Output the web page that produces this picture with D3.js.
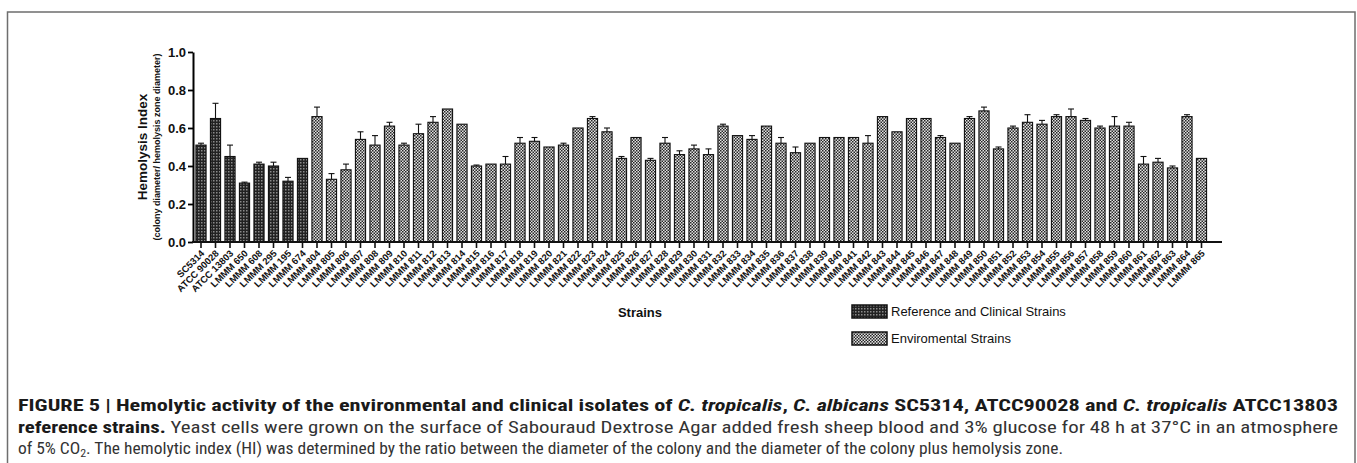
<!DOCTYPE html>
<html>
<head>
<meta charset="utf-8">
<script src="https://cdn.jsdelivr.net/npm/d3@7"></script>
<style>
	body { margin: 0; background: #fff; }
	svg { display: block; }
</style>
</head>
<body>
<div id="chart"></div>
<script>
'use strict';

var refStrains = ['SC5314', 'ATCC 90028', 'ATCC 13803', 'LMMM 650', 'LMMM 608',
	'LMMM 295', 'LMMM 195', 'LMMM 674'];
var envStrains = ['LMMM 804', 'LMMM 805', 'LMMM 806', 'LMMM 807', 'LMMM 808',
	'LMMM 809', 'LMMM 810', 'LMMM 811', 'LMMM 812', 'LMMM 813', 'LMMM 814',
	'LMMM 815', 'LMMM 816', 'LMMM 817', 'LMMM 818', 'LMMM 819', 'LMMM 820',
	'LMMM 821', 'LMMM 822', 'LMMM 823', 'LMMM 824', 'LMMM 825', 'LMMM 826',
	'LMMM 827', 'LMMM 828', 'LMMM 829', 'LMMM 830', 'LMMM 831', 'LMMM 832',
	'LMMM 833', 'LMMM 834', 'LMMM 835', 'LMMM 836', 'LMMM 837', 'LMMM 838',
	'LMMM 839', 'LMMM 840', 'LMMM 841', 'LMMM 842', 'LMMM 843', 'LMMM 844',
	'LMMM 845', 'LMMM 846', 'LMMM 847', 'LMMM 848', 'LMMM 849', 'LMMM 850',
	'LMMM 851', 'LMMM 852', 'LMMM 853', 'LMMM 854', 'LMMM 855', 'LMMM 856',
	'LMMM 857', 'LMMM 858', 'LMMM 859', 'LMMM 860', 'LMMM 861', 'LMMM 862',
	'LMMM 863', 'LMMM 864', 'LMMM 865'];

var refValues = [0.51, 0.65, 0.45, 0.31, 0.41, 0.40, 0.32, 0.44];
var refErrors = [0.01, 0.08, 0.06, 0.005, 0.01, 0.02, 0.02, 0];

var envValues = [0.66, 0.33, 0.38, 0.54, 0.51, 0.61, 0.51, 0.57, 0.63, 0.70,
	0.62, 0.40, 0.41, 0.41, 0.52, 0.53, 0.50, 0.51, 0.60, 0.65,
	0.58, 0.44, 0.55, 0.43, 0.52, 0.46, 0.49, 0.46, 0.61, 0.56,
	0.54, 0.61, 0.52, 0.47, 0.52, 0.55, 0.55, 0.55, 0.52, 0.66,
	0.58, 0.65, 0.65, 0.55, 0.52, 0.65, 0.69, 0.49, 0.60, 0.63,
	0.62, 0.66, 0.66, 0.64, 0.60, 0.61, 0.61, 0.41, 0.42, 0.39,
	0.66, 0.44];
var envErrors = [0.05, 0.03, 0.03, 0.04, 0.05, 0.02, 0.01, 0.05, 0.03, 0,
	0, 0.005, 0, 0.04, 0.03, 0.02, 0, 0.01, 0, 0.01,
	0.02, 0.01, 0, 0.01, 0.03, 0.02, 0.02, 0.03, 0.01, 0,
	0.02, 0, 0.03, 0.03, 0, 0, 0, 0, 0.04, 0,
	0, 0, 0, 0.01, 0, 0.01, 0.02, 0.01, 0.01, 0.04,
	0.02, 0.01, 0.04, 0.01, 0.01, 0.05, 0.02, 0.04, 0.02, 0.01,
	0.01, 0];

var yTicks = [0, 0.2, 0.4, 0.6, 0.8, 1.0];
var legendLabels = ['Reference and Clinical Strains', 'Enviromental Strains'];

var WIDTH = 1357, HEIGHT = 463;
var FONT = 'Arial, "Liberation Sans", sans-serif';

function buildRows ()	{
	var rows = [];

	refStrains.forEach(function (name, i)	{
		rows.push({ name: name, value: refValues[i], err: refErrors[i], group: 'ref' });
	});
	envStrains.forEach(function (name, i)	{
		rows.push({ name: name, value: envValues[i], err: envErrors[i], group: 'env' });
	});

	return rows;
};

function makePatterns (defs)	{
	var ref = defs.append('pattern')
		.attr('id', 'pat_ref')
		.attr('patternUnits', 'userSpaceOnUse')
		.attr('width', 3).attr('height', 3);
	ref.append('rect').attr('width', 3).attr('height', 3).attr('fill', '#222');
	ref.append('rect').attr('x', 0).attr('y', 0).attr('width', 1.5).attr('height', 1.5).attr('fill', '#8a8a8a');

	var env = defs.append('pattern')
		.attr('id', 'pat_env')
		.attr('patternUnits', 'userSpaceOnUse')
		.attr('width', 3).attr('height', 3);
	env.append('rect').attr('width', 3).attr('height', 3).attr('fill', '#e2e2e2');
	env.append('rect').attr('x', 0).attr('y', 0).attr('width', 1.5).attr('height', 1.5).attr('fill', '#262626');
	env.append('rect').attr('x', 1.5).attr('y', 1.5).attr('width', 1.5).attr('height', 1.5).attr('fill', '#262626');
};

function drawChart ()	{
	var rows = buildRows();

	var svg = d3.select('#chart').append('svg')
		.attr('width', WIDTH)
		.attr('height', HEIGHT);

	makePatterns(svg.append('defs'));

	// figure frame (open at the bottom)
	svg.append('rect')
		.attr('x', 7.5).attr('y', 12)
		.attr('width', 1347.5).attr('height', 480)
		.attr('fill', 'none')
		.attr('stroke', '#6e6e6e')
		.attr('stroke-width', 1.5);

	var x = d3.scaleBand()
		.domain(rows.map(function (d) { return d.name; }))
		.range([193.75, 1208.75])
		.paddingInner(0.3)
		.paddingOuter(0.15);

	var y = d3.scaleLinear().domain([0, 1]).range([242, 52]);

	// bars
	svg.append('g').selectAll('rect')
		.data(rows)
		.enter().append('rect')
		.attr('x', function (d) { return x(d.name); })
		.attr('y', function (d) { return y(d.value); })
		.attr('width', x.bandwidth())
		.attr('height', function (d) { return y(0) - y(d.value); })
		.attr('fill', function (d) { return d.group === 'ref' ? 'url(#pat_ref)' : 'url(#pat_env)'; })
		.attr('stroke', '#111')
		.attr('stroke-width', 1.1);

	// error bars (upper only)
	var eb = svg.append('g')
		.attr('stroke', '#111')
		.attr('stroke-width', 1.1)
		.selectAll('g')
		.data(rows.filter(function (d) { return d.err > 0; }))
		.enter().append('g');

	eb.append('line')
		.attr('x1', function (d) { return x(d.name) + x.bandwidth() / 2; })
		.attr('x2', function (d) { return x(d.name) + x.bandwidth() / 2; })
		.attr('y1', function (d) { return y(d.value); })
		.attr('y2', function (d) { return y(d.value + d.err); });

	eb.append('line')
		.attr('x1', function (d) { return x(d.name) + x.bandwidth() / 2 - 3; })
		.attr('x2', function (d) { return x(d.name) + x.bandwidth() / 2 + 3; })
		.attr('y1', function (d) { return y(d.value + d.err); })
		.attr('y2', function (d) { return y(d.value + d.err); });

	// y axis
	var yAxis = svg.append('g')
		.attr('transform', 'translate(193, 0)')
		.call(d3.axisLeft(y).tickValues(yTicks).tickFormat(d3.format('.1f')).tickSize(5).tickSizeOuter(0));

	yAxis.select('.domain').attr('stroke-width', 2);
	yAxis.selectAll('.tick line').attr('stroke-width', 1.8);
	yAxis.selectAll('.tick text')
		.attr('x', -7)
		.style('font-family', FONT)
		.style('font-size', '13px')
		.style('font-weight', 'bold')
		.attr('fill', '#111');

	// x axis
	var xAxis = svg.append('g')
		.attr('transform', 'translate(0, 242)')
		.call(d3.axisBottom(x).tickSize(6).tickSizeOuter(0));

	xAxis.select('.domain').remove();
	xAxis.append('line')
		.attr('x1', 192).attr('x2', 1222)
		.attr('stroke', '#111')
		.attr('stroke-width', 2);
	xAxis.selectAll('.tick line').attr('stroke-width', 1.6).attr('stroke', '#111');
	xAxis.selectAll('.tick text')
		.attr('y', 0)
		.attr('dy', 0)
		.attr('text-anchor', 'end')
		.attr('transform', 'translate(4, 12) rotate(-45)')
		.style('font-family', FONT)
		.style('font-size', '9.5px')
		.style('font-weight', 'bold')
		.attr('fill', '#111');

	// axis titles
	svg.append('text')
		.attr('transform', 'translate(147, 147) rotate(-90)')
		.attr('text-anchor', 'middle')
		.style('font-family', FONT)
		.style('font-size', '13.5px')
		.style('font-weight', 'bold')
		.attr('fill', '#111')
		.text('Hemolysis Index');

	svg.append('text')
		.attr('transform', 'translate(160, 147) rotate(-90)')
		.attr('text-anchor', 'middle')
		.style('font-family', FONT)
		.style('font-size', '9px')
		.style('font-weight', 'bold')
		.attr('fill', '#111')
		.text('(colony diameter/ hemolysis zone diameter)');

	svg.append('text')
		.attr('x', 640).attr('y', 317)
		.attr('text-anchor', 'middle')
		.style('font-family', FONT)
		.style('font-size', '13px')
		.style('font-weight', 'bold')
		.attr('fill', '#111')
		.text('Strains');

	// legend
	var lg = svg.append('g').selectAll('g')
		.data(legendLabels)
		.enter().append('g')
		.attr('transform', function (d, i) { return 'translate(852, ' + (305 + i * 27) + ')'; });

	lg.append('rect')
		.attr('width', 35).attr('height', 13)
		.attr('fill', function (d, i) { return i === 0 ? 'url(#pat_ref)' : 'url(#pat_env)'; })
		.attr('stroke', '#111')
		.attr('stroke-width', 1.5);

	lg.append('text')
		.attr('x', 39).attr('y', 11)
		.style('font-family', FONT)
		.style('font-size', '13px')
		.attr('fill', '#111')
		.text(function (d) { return d; });

	drawCaption(svg);
};

function drawCaption (svg)	{
	var capFont = '"Liberation Sans Narrow", "Roboto Condensed", Roboto, Arial, sans-serif';

	var l1 = svg.append('text')
		.attr('x', 18).attr('y', 411)
		.attr('textLength', 1320).attr('lengthAdjust', 'spacingAndGlyphs')
		.style('font-family', capFont).style('font-size', '16px')
		.style('font-weight', 'bold').attr('fill', '#1a1a1a');
	[['FIGURE 5 | Hemolytic activity of the environmental and clinical isolates of ', false],
	 ['C. tropicalis', true], [', ', false], ['C. albicans', true],
	 [' SC5314, ATCC90028 and ', false], ['C. tropicalis', true], [' ATCC13803', false]]
		.forEach(function (p)	{
			l1.append('tspan').style('font-style', p[1] ? 'italic' : 'normal').text(p[0]);
		});

	var l2 = svg.append('text')
		.attr('x', 18).attr('y', 432.5)
		.attr('textLength', 1320).attr('lengthAdjust', 'spacingAndGlyphs')
		.style('font-family', capFont).style('font-size', '16px')
		.attr('fill', '#333');
	l2.append('tspan').style('font-weight', 'bold').attr('fill', '#1a1a1a').text('reference strains.');
	l2.append('tspan').text(' Yeast cells were grown on the surface of Sabouraud Dextrose Agar added fresh sheep blood and 3% glucose for 48 h at 37\u00B0C in an atmosphere');

	var l3 = svg.append('text')
		.attr('x', 18).attr('y', 454)
		.attr('textLength', 1045).attr('lengthAdjust', 'spacingAndGlyphs')
		.style('font-family', capFont).style('font-size', '16px')
		.attr('fill', '#333');
	l3.append('tspan').text('of 5% CO');
	l3.append('tspan').attr('dy', 3).style('font-size', '11px').text('2');
	l3.append('tspan').attr('dy', -3).text('. The hemolytic index (HI) was determined by the ratio between the diameter of the colony and the diameter of the colony plus hemolysis zone.');
};

drawChart();
</script>
</body>
</html>
